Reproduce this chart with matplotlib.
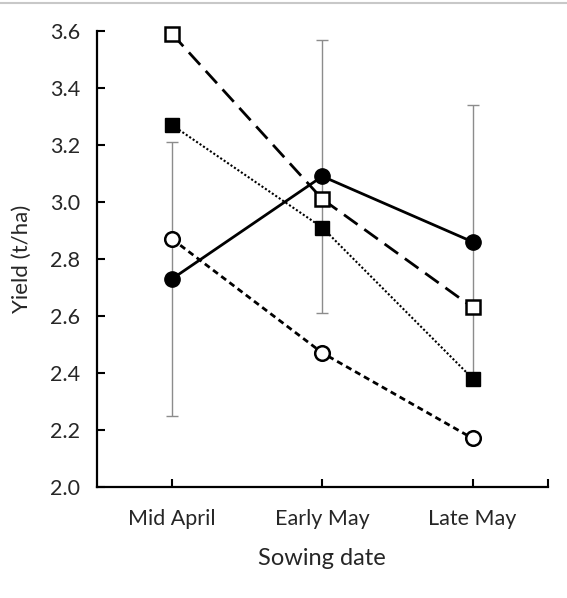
import numpy as np
import matplotlib.pyplot as plt
from matplotlib.lines import Line2D

# data
sowing_dates = ['Mid April', 'Early May', 'Late May']
filled_circle = [2.73, 3.09, 2.86]
filled_circle_err = [0.48, 0.48, 0.48]
open_square = [3.59, 3.01, 2.63]
filled_square = [3.27, 2.91, 2.38]
open_circle = [2.87, 2.47, 2.17]
y_ticks = [2.0, 2.2, 2.4, 2.6, 2.8, 3.0, 3.2, 3.4, 3.6]

plt.rcParams['font.family'] = ['Lato', 'DejaVu Sans']

fig = plt.figure(figsize=(5.67, 5.98), dpi=100)
ax = fig.add_axes([0.171, 0.186, 0.795, 0.762])

x = np.arange(len(sowing_dates))

# error bars for the filled-circle series (behind everything)
ax.errorbar(x, filled_circle, yerr=filled_circle_err, fmt='none',
            ecolor='#8c8c8c', elinewidth=1, capsize=4.5, capthick=1, zorder=1)

ax.plot(x, filled_circle, ls='-', lw=2, color='black', marker='o',
        markersize=11, markerfacecolor='black', markeredgecolor='black',
        zorder=5, clip_on=False)
ax.plot(x, open_square, ls=(0, (6, 3)), lw=2, color='black', marker='s',
        markersize=10.5, markerfacecolor='white', markeredgecolor='black',
        markeredgewidth=1.8, zorder=4, clip_on=False)
ax.plot(x, filled_square, ls=(0, (1, 1)), lw=1.5, color='black', marker='s',
        markersize=10.5, markerfacecolor='black', markeredgecolor='black',
        zorder=3, clip_on=False)
ax.plot(x, open_circle, ls=(0, (2.2, 1.5)), lw=2, color='black', marker='o',
        markersize=10.5, markerfacecolor='white', markeredgecolor='black',
        markeredgewidth=1.8, zorder=3, clip_on=False)

ax.set_xlim(-0.5, 2.5)
ax.set_ylim(2.0, 3.6)
ax.set_yticks(y_ticks)
ax.set_yticklabels(['%.1f' % v for v in y_ticks])
ax.set_xticks([0, 1, 2, 2.5])
ax.set_xticklabels(sowing_dates + [''])

for side in ['top', 'right']:
    ax.spines[side].set_visible(False)
for side in ['left', 'bottom']:
    ax.spines[side].set_linewidth(1.6)
    ax.spines[side].set_color('black')

ax.tick_params(axis='both', direction='in', length=6, width=1.5,
               labelsize=15.5, colors='black', labelcolor='#262626')
ax.tick_params(axis='x', pad=16)
ax.tick_params(axis='y', pad=12)

ax.set_xlabel('Sowing date', fontsize=17, color='#262626', labelpad=14)
ax.set_ylabel('Yield (t/ha)', fontsize=16, color='#262626', labelpad=13)

# thin gray frame line at the top of the image
fig.add_artist(Line2D([0, 1], [0.995, 0.995], transform=fig.transFigure,
                      color='#c8c8c8', lw=1.5))

fig.savefig('out.png', dpi=100)
